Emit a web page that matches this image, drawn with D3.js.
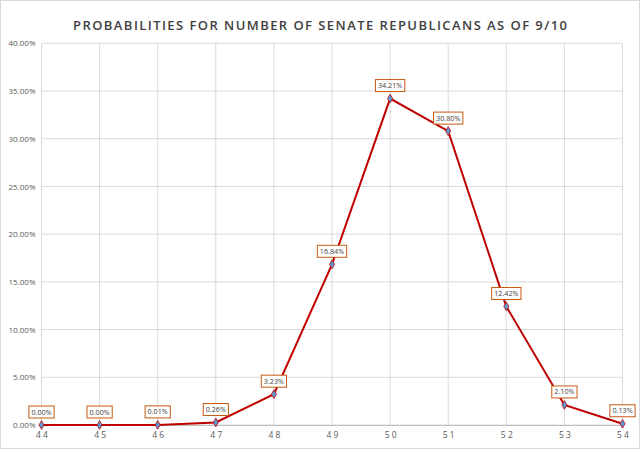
<!DOCTYPE html>
<html>
<head>
<meta charset="utf-8">
<script src="https://cdn.jsdelivr.net/npm/d3@7"></script>
<style>
html,body{margin:0;padding:0;background:#fff;}
svg{display:block;}
</style>
</head>
<body>
<svg id="chart" width="640" height="449"></svg>
<script>
const categories = [44, 45, 46, 47, 48, 49, 50, 51, 52, 53, 54];
const probabilities = [0.00, 0.00, 0.01, 0.26, 3.23, 16.84, 34.21, 30.80, 12.42, 2.10, 0.13];
const yTicks = [0, 5, 10, 15, 20, 25, 30, 35, 40];
const title = "PROBABILITIES  FOR  NUMBER  OF  SENATE  REPUBLICANS  AS  OF  9/10";

const W = 640, H = 449;
const margin = {left: 41.5, right: 17.5, top: 43.3, bottom: 24};
const svg = d3.select("#chart");

svg.append("rect").attr("x", 0.5).attr("y", 0.5).attr("width", W - 1).attr("height", H - 1)
  .attr("fill", "#fff").attr("stroke", "#d9d9d9");

const x = d3.scalePoint().domain(categories).range([margin.left, W - margin.right]);
const y = d3.scaleLinear().domain([0, 40]).range([H - margin.bottom, margin.top]);

// gridlines
const g = svg.append("g");
g.selectAll("line.h").data(yTicks).join("line")
  .attr("x1", margin.left).attr("x2", W - margin.right)
  .attr("y1", d => y(d)).attr("y2", d => y(d))
  .attr("stroke", "#d9d9d9").attr("stroke-width", 1);
g.selectAll("line.v").data(categories).join("line")
  .attr("x1", d => x(d)).attr("x2", d => x(d))
  .attr("y1", y(40)).attr("y2", y(0))
  .attr("stroke", "#d9d9d9").attr("stroke-width", 1);

// y axis
const yAxis = svg.append("g").attr("transform", `translate(${margin.left},0)`)
  .call(d3.axisLeft(y).tickValues(yTicks).tickSize(0).tickPadding(6).tickFormat(d => d.toFixed(2) + "%"));
yAxis.select(".domain").remove();
yAxis.selectAll("text").attr("fill", "#595959").attr("font-family", "'Open Sans', sans-serif").attr("font-size", 8);

// x axis
const xAxis = svg.append("g").attr("transform", `translate(0,${y(0)})`)
  .call(d3.axisBottom(x).tickSize(0).tickPadding(7).tickFormat(d => String(d).split("").join(" ")));
xAxis.select(".domain").attr("stroke", "#bfbfbf");
xAxis.selectAll("text").attr("fill", "#595959").attr("font-family", "'Open Sans', sans-serif").attr("font-size", 8.5);

// title
svg.append("text").attr("x", W / 2).attr("y", 30).attr("text-anchor", "middle")
  .attr("font-family", "'Open Sans', sans-serif").attr("font-size", 13).attr("font-weight", 600)
  .attr("fill", "#404040").attr("textLength", 494).attr("lengthAdjust", "spacing")
  .text(title);

const data = categories.map((c, i) => ({c, v: probabilities[i]}));

// line
svg.append("path").datum(data)
  .attr("fill", "none").attr("stroke", "#c00000").attr("stroke-width", 2)
  .attr("d", d3.line().x(d => x(d.c)).y(d => y(d.v)));

// markers
svg.selectAll("path.m").data(data).join("path")
  .attr("transform", d => `translate(${x(d.c)},${y(d.v)})`)
  .attr("d", d3.symbol(d3.symbolDiamond, 22)())
  .attr("fill", "#5b9bd5").attr("stroke", "#c00000").attr("stroke-width", 0.8);

// data labels
const lbl = svg.selectAll("g.lbl").data(data).join("g")
  .attr("transform", d => `translate(${x(d.c)},${y(d.v) - 13})`);
lbl.append("rect").attr("class", "box");
lbl.append("text").attr("text-anchor", "middle").attr("dy", "0.35em")
  .attr("font-family", "'Open Sans', sans-serif").attr("font-size", 7.2).attr("fill", "#404040")
  .text(d => d.v.toFixed(2) + "%");
lbl.each(function() {
  const t = d3.select(this).select("text").node().getBBox();
  d3.select(this).select("rect")
    .attr("x", -t.width / 2 - 2.5).attr("y", -6).attr("width", t.width + 5).attr("height", 12)
    .attr("fill", "#fff").attr("stroke", "#c55a11").attr("stroke-width", 1);
});
</script>
</body>
</html>
